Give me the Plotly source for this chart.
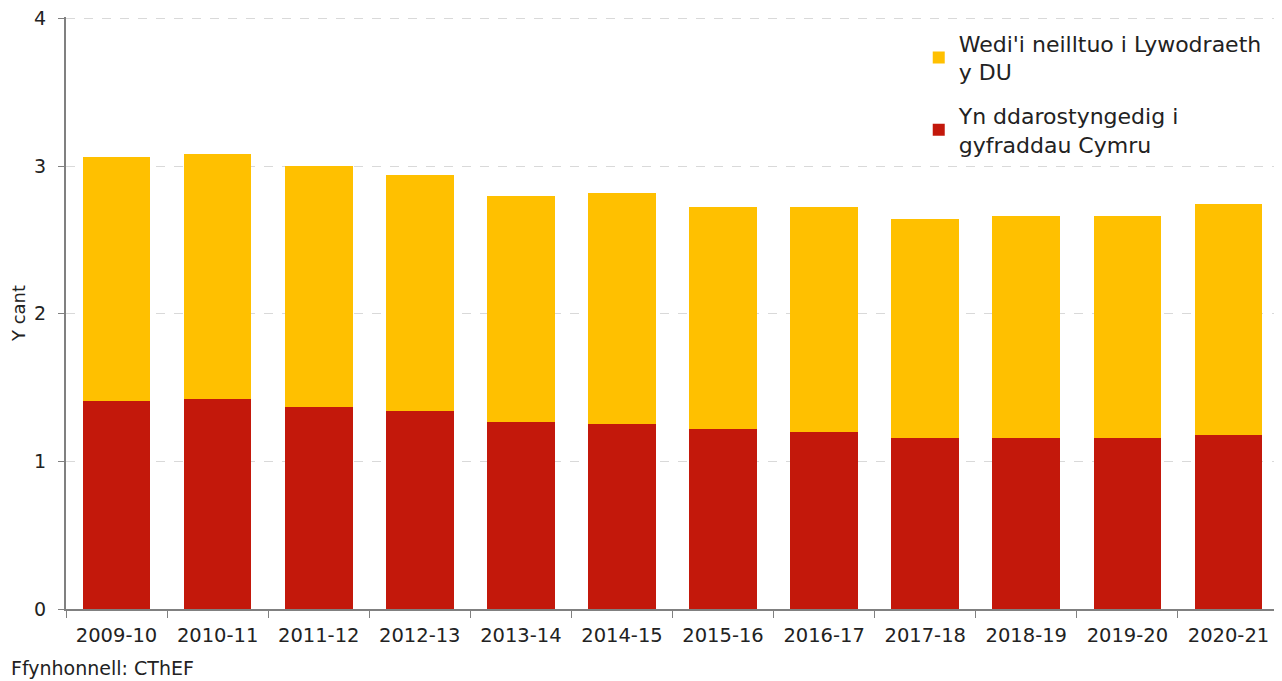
import plotly.graph_objects as go

categories = ["2009-10", "2010-11", "2011-12", "2012-13", "2013-14", "2014-15",
              "2015-16", "2016-17", "2017-18", "2018-19", "2019-20", "2020-21"]
welsh_rates = [1.41, 1.42, 1.37, 1.34, 1.27, 1.25, 1.22, 1.20, 1.16, 1.16, 1.16, 1.18]
uk_gov = [1.65, 1.66, 1.63, 1.60, 1.53, 1.57, 1.50, 1.52, 1.48, 1.50, 1.50, 1.56]
y_ticks = [0, 1, 2, 3, 4]

name_uk = "Wedi'i neilltuo i Lywodraeth<br>y DU"
name_wales = "Yn ddarostyngedig i<br>gyfraddau Cymru"

font_family = "'DejaVu Sans', sans-serif"

fig = go.Figure()
fig.add_trace(go.Bar(x=categories, y=welsh_rates, name=name_wales, legendgroup="wales",
                     legendrank=2, marker=dict(color="#C3180B", line=dict(width=0))))
fig.add_trace(go.Bar(x=categories, y=uk_gov, name=name_uk, legendgroup="uk",
                     legendrank=1, marker=dict(color="#FFC000", line=dict(width=0))))

fig.update_layout(
    barmode="stack",
    bargap=0.33,
    width=1274, height=673,
    margin=dict(l=58, r=3, t=9, b=72),
    plot_bgcolor="white", paper_bgcolor="white",
    font=dict(family=font_family, size=18, color="#222222"),
    legend=dict(x=0.703, y=0.991, xanchor="left", yanchor="top",
                traceorder="grouped", font=dict(size=22),
                itemwidth=30, tracegroupgap=12, bgcolor="rgba(0,0,0,0)"),
    xaxis=dict(type="category", showline=True, linecolor="#808080", linewidth=1.5,
               ticks="outside", tickson="boundaries", ticklen=7, tickcolor="#808080",
               tickfont=dict(size=19.5), ticklabelstandoff=8, showgrid=False,
               automargin=False),
    yaxis=dict(range=[0, 4.01], tickvals=y_ticks, showline=True, linecolor="#808080", linewidth=2,
               ticks="outside", ticklen=6, tickcolor="#808080",
               showgrid=True, gridcolor="#D9D9D9", griddash="dash", gridwidth=1,
               tickfont=dict(size=19), ticklabelstandoff=8, ticklabeloverflow="allow",
               zeroline=False, automargin=False,
               title=dict(text="Y cant", font=dict(size=18), standoff=14)),
    annotations=[dict(text="Ffynhonnell: CThEF", xref="paper", yref="paper",
                      x=0, y=0, xshift=-57, yshift=-72, xanchor="left", yanchor="bottom",
                      showarrow=False, font=dict(size=19))],
)

fig.write_html("out.html")
